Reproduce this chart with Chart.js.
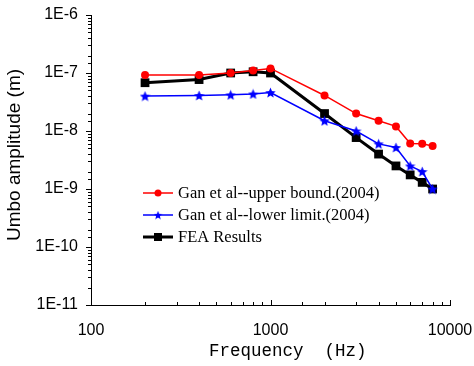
<!DOCTYPE html>
<html>
<head>
<meta charset="utf-8">
<script src="https://cdn.jsdelivr.net/npm/chart.js@4.4.1/dist/chart.umd.min.js"></script>
<style>
  html, body { margin: 0; padding: 0; background: #fff; }
  canvas { display: block; }
</style>
</head>
<body>
<canvas id="umbo-chart" width="474" height="366"></canvas>
<script>
// Umbo amplitude vs. frequency (log-log)
const frequencies = [200, 400, 600, 800, 1000, 2000, 3000, 4000, 5000, 6000, 7000, 8000];
const upperBound = [9.2e-8, 9.2e-8, 1.0e-7, 1.1e-7, 1.2e-7, 4.1e-8, 2.0e-8, 1.5e-8, 1.2e-8, 6.1e-9, 6.0e-9, 5.5e-9];
const lowerLimit = [4.0e-8, 4.1e-8, 4.2e-8, 4.35e-8, 4.6e-8, 1.5e-8, 1.0e-8, 6.0e-9, 5.2e-9, 2.5e-9, 2.0e-9, 1.0e-9];
const feaResults = [6.8e-8, 7.7e-8, 1.0e-7, 1.05e-7, 1.0e-7, 2.0e-8, 7.7e-9, 4.0e-9, 2.5e-9, 1.75e-9, 1.3e-9, 1.0e-9];
const xTickLabels = ['100', '1000', '10000'];
const yTickLabels = ['1E-11', '1E-10', '1E-9', '1E-8', '1E-7', '1E-6'];
const seriesNames = ['Gan et al--upper bound.(2004)', 'Gan et al--lower limit.(2004)', 'FEA Results'];
const xTitle = 'Frequency  (Hz)';
const yTitle = 'Umbo amplitude (m)';

function isDecade(v) {
    const e = Math.log10(v);
    return Math.abs(e - Math.round(e)) < 1e-6;
}

function toPoints(values) {
    return frequencies.map((f, i) => ({ x: f, y: values[i] }));
}

// filled five-point star used as the marker for the lower-limit series
function makeStar(size, color) {
    const c = document.createElement('canvas');
    c.width = c.height = size;
    const g = c.getContext('2d');
    const cx = size / 2, cy = size / 2 + 0.6, ro = size / 2, ri = ro * 0.45;
    g.beginPath();
    for (let i = 0; i < 10; i++) {
        const r = i % 2 ? ri : ro;
        const a = -Math.PI / 2 + i * Math.PI / 5;
        g.lineTo(cx + r * Math.cos(a), cy + r * Math.sin(a));
    }
    g.closePath();
    g.fillStyle = color;
    g.fill();
    return c;
}

const starMarker = makeStar(11, '#0000ff');

function drawMarker(ctx, kind, x, y) {
    if (kind === 'circle') {
        ctx.fillStyle = '#ff0000';
        ctx.beginPath();
        ctx.arc(x, y, 3.5, 0, Math.PI * 2);
        ctx.fill();
    } else if (kind === 'star') {
        ctx.drawImage(starMarker, x - 4.5, y - 4.5, 9, 9);
    } else {
        ctx.fillStyle = '#000';
        ctx.fillRect(x - 4, y - 4, 8, 8);
    }
}

// ticks, axis titles and the in-plot legend
const axisDecor = {
    id: 'axisDecor',
    afterDraw(chart) {
        const ctx = chart.ctx;
        const xs = chart.scales.x;
        const ys = chart.scales.y;
        ctx.save();

        ctx.strokeStyle = '#000';
        ctx.lineWidth = 1;
        ctx.beginPath();
        ys.ticks.forEach(t => {
            const y = Math.round(ys.getPixelForValue(t.value)) + 0.5;
            const len = isDecade(t.value) ? 5 : 3;
            ctx.moveTo(ys.right - len, y);
            ctx.lineTo(ys.right, y);
        });
        xs.ticks.forEach(t => {
            const x = Math.round(xs.getPixelForValue(t.value)) + 0.5;
            const len = isDecade(t.value) ? 5 : 3;
            ctx.moveTo(x, xs.top);
            ctx.lineTo(x, xs.top - len);
        });
        ctx.stroke();

        // axis titles
        ctx.fillStyle = '#000';
        ctx.font = '19px "Liberation Sans", Arial, sans-serif';
        ctx.textAlign = 'center';
        ctx.textBaseline = 'middle';
        ctx.save();
        ctx.translate(15, 155);
        ctx.rotate(-Math.PI / 2);
        ctx.fillText(yTitle, 0, 0);
        ctx.restore();

        ctx.font = '17.5px "Liberation Mono", "Courier New", monospace';
        ctx.textAlign = 'left';
        ctx.textBaseline = 'alphabetic';
        ctx.fillText(xTitle, 209, 356);

        // legend
        const rows = [
            { name: seriesNames[0], color: '#ff0000', width: 1.5, marker: 'circle' },
            { name: seriesNames[1], color: '#0000ff', width: 1.5, marker: 'star' },
            { name: seriesNames[2], color: '#000000', width: 3, marker: 'square' }
        ];
        ctx.font = '16.5px "Liberation Serif", "Times New Roman", serif';
        ctx.textBaseline = 'middle';
        rows.forEach((r, i) => {
            const y = 193 + i * 22;
            ctx.strokeStyle = r.color;
            ctx.lineWidth = r.width;
            ctx.beginPath();
            ctx.moveTo(143, y);
            ctx.lineTo(173, y);
            ctx.stroke();
            drawMarker(ctx, r.marker, 158, y);
            ctx.fillStyle = '#000';
            ctx.fillText(r.name, 178, y + 1);
        });

        ctx.restore();
    }
};

const tickFont = { family: '"Liberation Sans", Arial, sans-serif', size: 16 };

new Chart(document.getElementById('umbo-chart'), {
    type: 'line',
    data: {
        datasets: [
            {
                label: seriesNames[0],
                data: toPoints(upperBound),
                borderColor: '#ff0000',
                backgroundColor: '#ff0000',
                borderWidth: 1.5,
                pointStyle: 'circle',
                pointRadius: 4,
                pointBorderWidth: 0
            },
            {
                label: seriesNames[1],
                data: toPoints(lowerLimit),
                borderColor: '#0000ff',
                backgroundColor: '#0000ff',
                borderWidth: 1.5,
                pointStyle: starMarker
            },
            {
                label: seriesNames[2],
                data: toPoints(feaResults),
                borderColor: '#000000',
                backgroundColor: '#000000',
                borderWidth: 3,
                pointStyle: 'rect',
                pointRadius: 6.2,
                pointBorderWidth: 0
            }
        ]
    },
    options: {
        responsive: false,
        animation: false,
        devicePixelRatio: 1,
        layout: { padding: { top: 15, right: 24, bottom: 0, left: 0 } },
        plugins: {
            legend: { display: false },
            tooltip: { enabled: false }
        },
        scales: {
            x: {
                type: 'logarithmic',
                min: 100,
                max: 10000,
                grid: { display: false },
                border: { display: true, color: '#000', width: 1 },
                afterFit: scale => {
                    scale.height = 61;
                    scale.paddingRight = 24;
                    scale.paddingLeft = 0;
                },
                ticks: {
                    autoSkip: false,
                    maxRotation: 0,
                    padding: 8,
                    color: '#000',
                    font: tickFont,
                    callback: v => isDecade(v) ? xTickLabels[Math.round(Math.log10(v)) - 2] : ''
                }
            },
            y: {
                type: 'logarithmic',
                min: 1e-11,
                max: 1e-6,
                grid: { display: false },
                border: { display: true, color: '#000', width: 1 },
                afterFit: scale => {
                    scale.width = 91;
                    scale.paddingTop = 15;
                    scale.paddingBottom = 0;
                },
                ticks: {
                    autoSkip: false,
                    padding: 5,
                    color: '#000',
                    font: tickFont,
                    callback: v => isDecade(v) ? yTickLabels[Math.round(Math.log10(v)) + 11] : ''
                }
            }
        }
    },
    plugins: [axisDecor]
});
</script>
</body>
</html>
